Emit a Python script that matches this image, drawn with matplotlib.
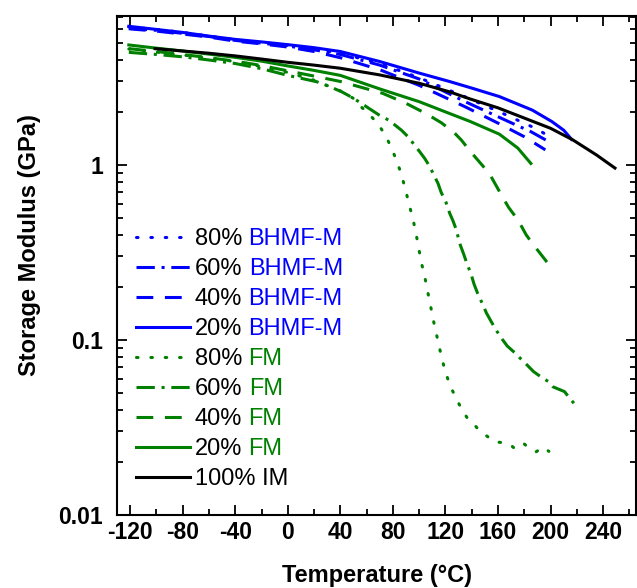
import numpy as np
import matplotlib
matplotlib.use('Agg')
import matplotlib.pyplot as plt
from matplotlib.ticker import LogLocator, MultipleLocator, NullFormatter

plt.rcParams['font.family'] = ['Liberation Sans', 'DejaVu Sans']
plt.rcParams['axes.unicode_minus'] = False

# ========== data ==========
# BHMF-M series (blue)
T_BH80 = [-121, -100, -80, -60, -40, -20, 0, 20, 40, 70, 100, 135, 165, 190, 196]
E_BH80 = [6.15, 5.95, 5.72, 5.45, 5.2, 5.0, 4.82, 4.6, 4.35, 3.8, 3.15, 2.45, 1.95, 1.6, 1.5]

T_BH60 = [-121, -100, -80, -60, -40, -20, 0, 20, 40, 70, 100, 135, 168, 185, 197]
E_BH60 = [6.05, 5.88, 5.65, 5.42, 5.15, 4.97, 4.78, 4.55, 4.28, 3.72, 3.1, 2.3, 1.77, 1.55, 1.38]

T_BH40 = [-121, -100, -80, -60, -40, -20, 0, 20, 40, 70, 100, 135, 163, 180, 196]
E_BH40 = [6.0, 5.82, 5.6, 5.38, 5.1, 4.92, 4.72, 4.45, 4.1, 3.5, 2.85, 2.15, 1.69, 1.45, 1.22]

T_BH20 = [-121, -100, -80, -60, -40, -20, 0, 20, 40, 70, 100, 123, 140, 161, 186, 201, 210, 216]
E_BH20 = [6.2, 5.95, 5.72, 5.45, 5.22, 5.05, 4.87, 4.68, 4.45, 3.9, 3.35, 3.0, 2.75, 2.46, 2.06, 1.77, 1.58, 1.4]

# FM series (green)
T_FM80 = [-121, -100, -80, -60, -40, -20, 0, 20, 40, 50, 56, 62, 69, 74.5, 79.3,
          83.4, 86.7, 90, 93, 95.8, 98.3, 101.5, 104.2, 106.7, 109.3,
          111.8, 114.6, 117.3, 120.3, 123.9, 128.3, 132.1, 136.3, 140.4, 145.5,
          151.1, 157.4, 163.7, 168.8, 172.6, 176.4, 180.2, 184, 189.1, 194.2, 198.7]
E_FM80 = [4.6, 4.42, 4.25, 4.08, 3.9, 3.65, 3.38, 3.05, 2.65, 2.4, 2.14, 1.95, 1.70, 1.47, 1.23,
          1.03, 0.87, 0.70, 0.57, 0.47, 0.38, 0.28, 0.23, 0.185, 0.148,
          0.119, 0.0966, 0.0779, 0.0645, 0.054, 0.0462, 0.0405, 0.0361, 0.0339, 0.0305,
          0.0284, 0.0262, 0.0259, 0.0254, 0.0240, 0.0254, 0.0254, 0.0238, 0.0230, 0.0244, 0.0231]

T_FM60 = [-121, -100, -80, -60, -40, -20, 0, 22, 32, 41, 49, 56, 62, 69, 77,
          86.5, 91.5, 100.4, 104.2, 108, 114.3, 116.8, 120.2, 123.2, 125.7,
          128.3, 130.8, 133.8, 136.3, 139.7, 141.7, 144.3, 148.6, 151.1, 154.9,
          159.2, 163.2, 167, 172.6, 176.9, 180.9, 187, 194.2, 198.5, 201.8, 210.6, 215, 221]
E_FM60 = [4.4, 4.28, 4.15, 3.98, 3.8, 3.55, 3.25, 2.99, 2.8, 2.62, 2.43, 2.25, 2.1, 1.94, 1.8,
          1.58, 1.45, 1.19, 1.09, 0.98, 0.785, 0.695, 0.617, 0.53, 0.48,
          0.425, 0.357, 0.31, 0.274, 0.235, 0.209, 0.186, 0.158, 0.143, 0.127,
          0.112, 0.101, 0.0924, 0.0847, 0.0786, 0.0735, 0.066, 0.0604, 0.0578, 0.054, 0.0507, 0.046, 0.0407]

T_FM40 = [-121, -100, -80, -60, -40, -20, 0, 20, 40, 72, 90, 105, 117, 127, 132,
          138, 143.5, 150, 154, 159, 163, 168, 173, 178, 181.5, 187, 192, 198, 200]
E_FM40 = [4.62, 4.45, 4.28, 4.1, 3.92, 3.7, 3.45, 3.22, 3.0, 2.57, 2.25, 1.97, 1.74, 1.52, 1.39,
          1.22, 1.09, 0.957, 0.877, 0.752, 0.665, 0.573, 0.51, 0.444, 0.398, 0.349, 0.313, 0.274, 0.26]

T_FM20 = [-121, -100, -80, -60, -40, -20, 0, 20, 40, 70, 100, 123, 139, 161, 175, 185]
E_FM20 = [4.85, 4.65, 4.48, 4.3, 4.12, 3.92, 3.68, 3.47, 3.25, 2.72, 2.3, 1.97, 1.77, 1.5, 1.25, 1.02]

# neat resin (black)
T_IM = [-101, -80, -60, -40, -20, 0, 20, 40, 70, 100, 123, 139, 160, 174, 200, 217, 235, 249]
E_IM = [4.62, 4.48, 4.35, 4.2, 4.03, 3.86, 3.72, 3.57, 3.27, 2.93, 2.62, 2.38, 2.12, 1.93, 1.62, 1.39, 1.14, 0.96]

X_TICKS = [-120, -80, -40, 0, 40, 80, 120, 160, 200, 240]
Y_TICKS = [0.01, 0.1, 1]
Y_TICK_LABELS = ['0.01', '0.1', '1']
# =================================================

BLUE = '#0000FF'
GREEN = '#008000'
LW = 2.2
DOT = dict(linestyle=(0, (0.5, 4.2)), dash_capstyle='round')
DASHDOT = dict(linestyle=(0, (6, 2.2, 1.0, 2.2)), dash_capstyle='butt')
DASH = dict(linestyle=(0, (5.5, 3.8)), dash_capstyle='butt')
SOLID = dict(linestyle='-')

fig = plt.figure(figsize=(6.37, 5.88), dpi=100)
ax = fig.add_axes([117 / 637, 73 / 588, 519 / 637, 499 / 588])

series = [
    (T_BH80, E_BH80, BLUE, DOT, '80%', 'BHMF-M'),
    (T_BH60, E_BH60, BLUE, DASHDOT, '60%', 'BHMF-M'),
    (T_BH40, E_BH40, BLUE, DASH, '40%', 'BHMF-M'),
    (T_BH20, E_BH20, BLUE, SOLID, '20%', 'BHMF-M'),
    (T_FM80, E_FM80, GREEN, DOT, '80%', 'FM'),
    (T_FM60, E_FM60, GREEN, DASHDOT, '60%', 'FM'),
    (T_FM40, E_FM40, GREEN, DASH, '40%', 'FM'),
    (T_FM20, E_FM20, GREEN, SOLID, '20%', 'FM'),
    (T_IM, E_IM, 'black', SOLID, '100% IM', None),
]

handles = []
for T, E, c, style, lab, _ in series:
    line, = ax.plot(T, E, color=c, lw=LW, label=lab, **style)
    handles.append(line)

ax.set_yscale('log')
ax.set_xlim(-130, 265)
ax.set_ylim(0.01, 7.1)

ax.set_xticks(X_TICKS)
ax.xaxis.set_minor_locator(MultipleLocator(20))
ax.set_yticks(Y_TICKS)
ax.set_yticklabels(Y_TICK_LABELS)
ax.yaxis.set_minor_locator(LogLocator(base=10, subs=np.arange(2, 10)))
ax.yaxis.set_minor_formatter(NullFormatter())

ax.tick_params(which='both', direction='in', top=True, right=True, width=1.3)
ax.tick_params(which='major', length=7)
ax.tick_params(which='minor', length=4)
ax.tick_params(axis='x', which='major', pad=4)
ax.tick_params(axis='y', which='major', pad=10)
for lbl in ax.get_xticklabels() + ax.get_yticklabels():
    lbl.set_fontsize(16.5)
    lbl.set_fontweight('bold')
for sp in ax.spines.values():
    sp.set_linewidth(1.5)

ax.set_xlabel('Temperature (°C)', fontsize=17, fontweight='bold', labelpad=15)
ax.set_ylabel('Storage Modulus (GPa)', fontsize=17, fontweight='bold')
ax.yaxis.set_label_coords(-0.146, 0.54)

leg = ax.legend(handles=handles, loc='upper left', bbox_to_anchor=(0.036, 0.575),
                frameon=False, fontsize=17, handlelength=2.3, handletextpad=0.2,
                labelspacing=0.34, borderpad=0, borderaxespad=0)
# second half of each legend entry in the series colour (drawn after the legend)
for txt, (_, _, c, _, _, suffix) in zip(leg.get_texts(), series):
    if suffix:
        ax.annotate(suffix, xy=(1, 0), xycoords=txt, xytext=(4.7, 0),
                    textcoords='offset points', ha='left', va='bottom',
                    fontsize=17, color=c, zorder=10)

fig.savefig('out.png', dpi=100)
